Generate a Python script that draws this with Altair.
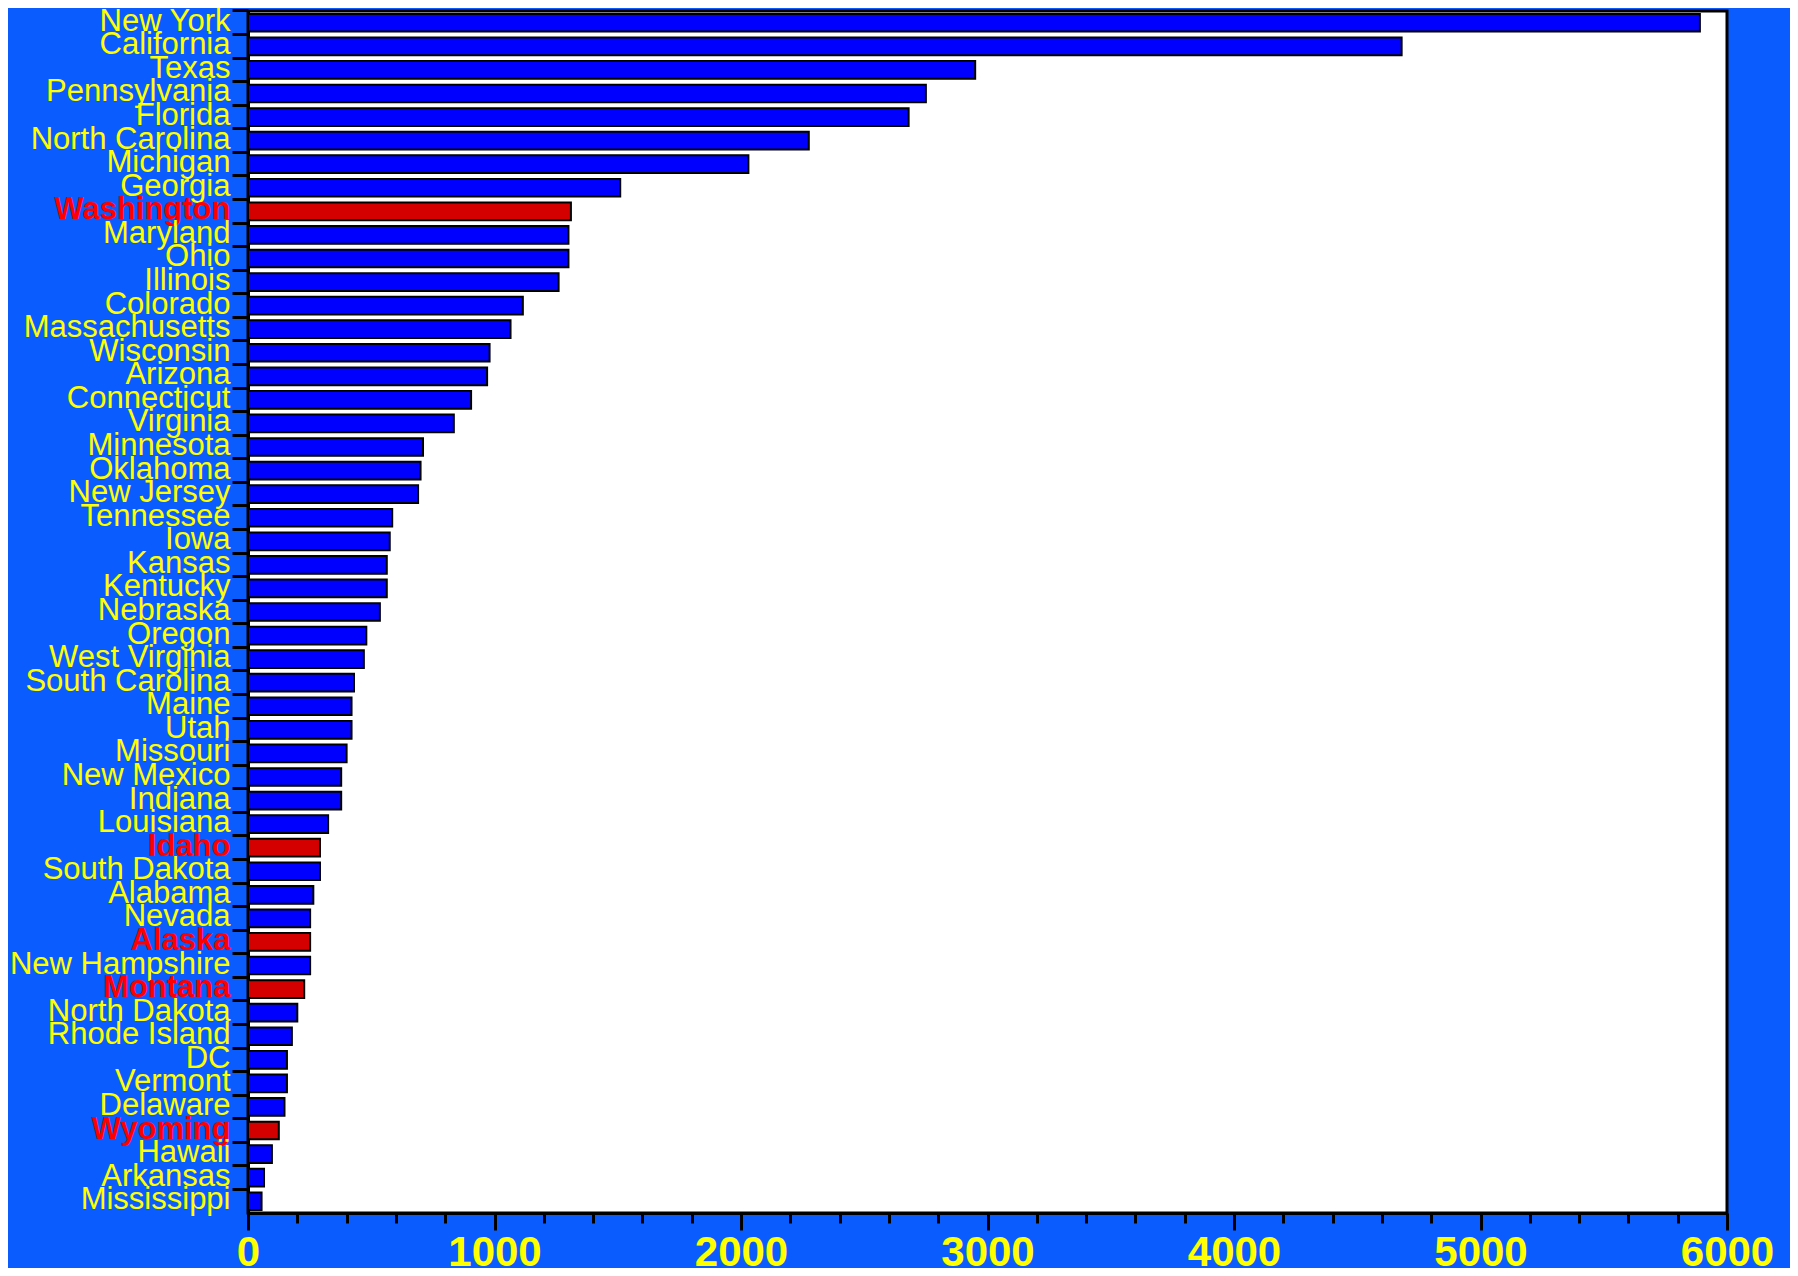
import json
import altair as alt
import pandas as pd

states = [
    "New York", "California", "Texas", "Pennsylvania", "Florida", "North Carolina",
    "Michigan", "Georgia", "Washington", "Maryland", "Ohio", "Illinois", "Colorado",
    "Massachusetts", "Wisconsin", "Arizona", "Connecticut", "Virginia", "Minnesota",
    "Oklahoma", "New Jersey", "Tennessee", "Iowa", "Kansas", "Kentucky", "Nebraska",
    "Oregon", "West Virginia", "South Carolina", "Maine", "Utah", "Missouri",
    "New Mexico", "Indiana", "Louisiana", "Idaho", "South Dakota", "Alabama", "Nevada",
    "Alaska", "New Hampshire", "Montana", "North Dakota", "Rhode Island", "DC",
    "Vermont", "Delaware", "Wyoming", "Hawaii", "Arkansas", "Mississippi",
]
values = [
    5890, 4680, 2950, 2750, 2680, 2275, 2030, 1510, 1310, 1300, 1300, 1260, 1115,
    1065, 980, 970, 905, 835, 710, 700, 690, 585, 575, 563, 563, 535,
    480, 470, 430, 420, 420, 400, 378, 378, 325, 292, 292, 265, 252,
    252, 252, 228, 200, 178, 158, 158, 148, 125, 97, 65, 55,
]
highlighted = ["Washington", "Idaho", "Alaska", "Montana", "Wyoming"]
x_tick_values = list(range(0, 6001, 200))

df = pd.DataFrame({
    "state": states,
    "value": values,
    "group": ["West" if s in highlighted else "Other" for s in states],
})

hl_test = "indexof(" + json.dumps(highlighted) + ", datum.value) >= 0"

chart = alt.Chart(df).mark_bar(stroke="black", strokeWidth=2).encode(
    y=alt.Y(
        "state:N", sort=states, title=None,
        scale=alt.Scale(paddingInner=0.25, paddingOuter=0.125),
        axis=alt.Axis(
            labelFont="Liberation Sans, Arial, sans-serif", labelFontSize=31,
            labelColor={"condition": {"test": hl_test, "value": "#FF0000"}, "value": "#FFFF00"},
            labelFontWeight={"condition": {"test": hl_test, "value": "bold"}, "value": "normal"},
            labelLimit=0, labelOverlap=False, labelPadding=2, labelOffset=-1,
            tickSize=16, tickWidth=3, tickColor="black",
            domainColor="black", domainWidth=3,
            bandPosition=-0.1667, grid=False,
        ),
    ),
    x=alt.X(
        "value:Q", title=None,
        scale=alt.Scale(domain=[0, 6000], nice=False),
        axis=alt.Axis(
            values=x_tick_values, format="d",
            labelExpr="datum.value % 1000 === 0 ? datum.label : ''",
            labelFont="Liberation Sans, Arial, sans-serif", labelFontSize=42,
            labelFontWeight="bold", labelColor="#FFFF00", labelOverlap=False,
            labelFlush=False, labelPadding=2,
            tickSize={"condition": {"test": "datum.value % 1000 === 0", "value": 17}, "value": 10},
            tickWidth=3, tickColor="black",
            domainColor="black", domainWidth=3, grid=False,
        ),
    ),
    color=alt.Color(
        "group:N",
        scale=alt.Scale(domain=["Other", "West"], range=["#0000FF", "#D40000"]),
        legend=None,
    ),
).properties(
    width=1479, height=1202,
    background="#0B5CFF",
    padding={"left": 240, "top": 3, "right": 63, "bottom": 55},
    autosize=alt.AutoSizeParams(type="none"),
).configure_view(stroke="black", strokeWidth=3, fill="white")

chart.save("out.html", embed_options={"renderer": "svg", "actions": False})
